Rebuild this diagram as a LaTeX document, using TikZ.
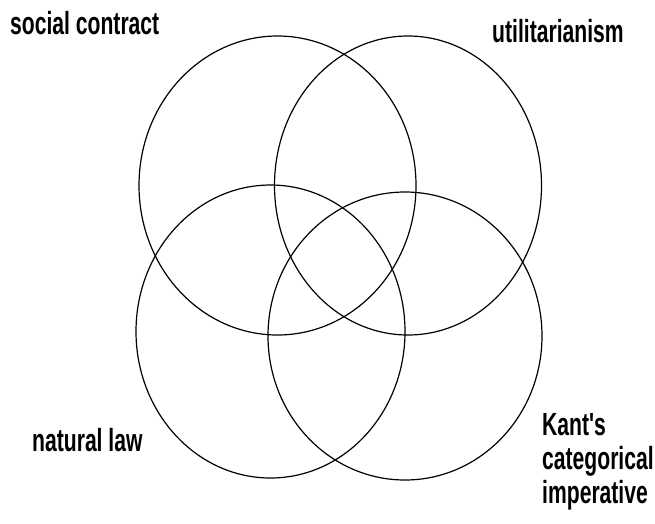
\documentclass[tikz,border=0pt]{standalone}
\usepackage{fontspec}
\newfontfamily\labelfont[FakeStretch=0.66]{Liberation Sans}
\usetikzlibrary{shapes.geometric}
\begin{document}
\begin{tikzpicture}[x=1pt,y=-1pt,font=\labelfont\bfseries\fontsize{32}{34}\selectfont,ring/.style={draw,ellipse,line width=1.2pt,inner sep=0pt},lbl/.style={anchor=base west,inner sep=0pt,align=left}]
\useasboundingbox (0,0) rectangle (655,523);
\node[ring,minimum width=277pt,minimum height=299pt](sc) at (277.5,185.5){};
\node[ring,minimum width=267pt,minimum height=299pt](ut) at (408,185.5){};
\node[ring,minimum width=269pt,minimum height=293pt](nl) at (270.5,331.5){};
\node[ring,minimum width=274pt,minimum height=288pt](ki) at (405,336){};
\node[lbl](tsc) at (10,34){social contract};
\node[lbl](tut) at (492,42){utilitarianism};
\node[lbl](tnl) at (32,451){natural law};
\node[lbl,anchor=north west](tki) at (542,413){Kant's\\categorical\\imperative};
\end{tikzpicture}
\end{document}
